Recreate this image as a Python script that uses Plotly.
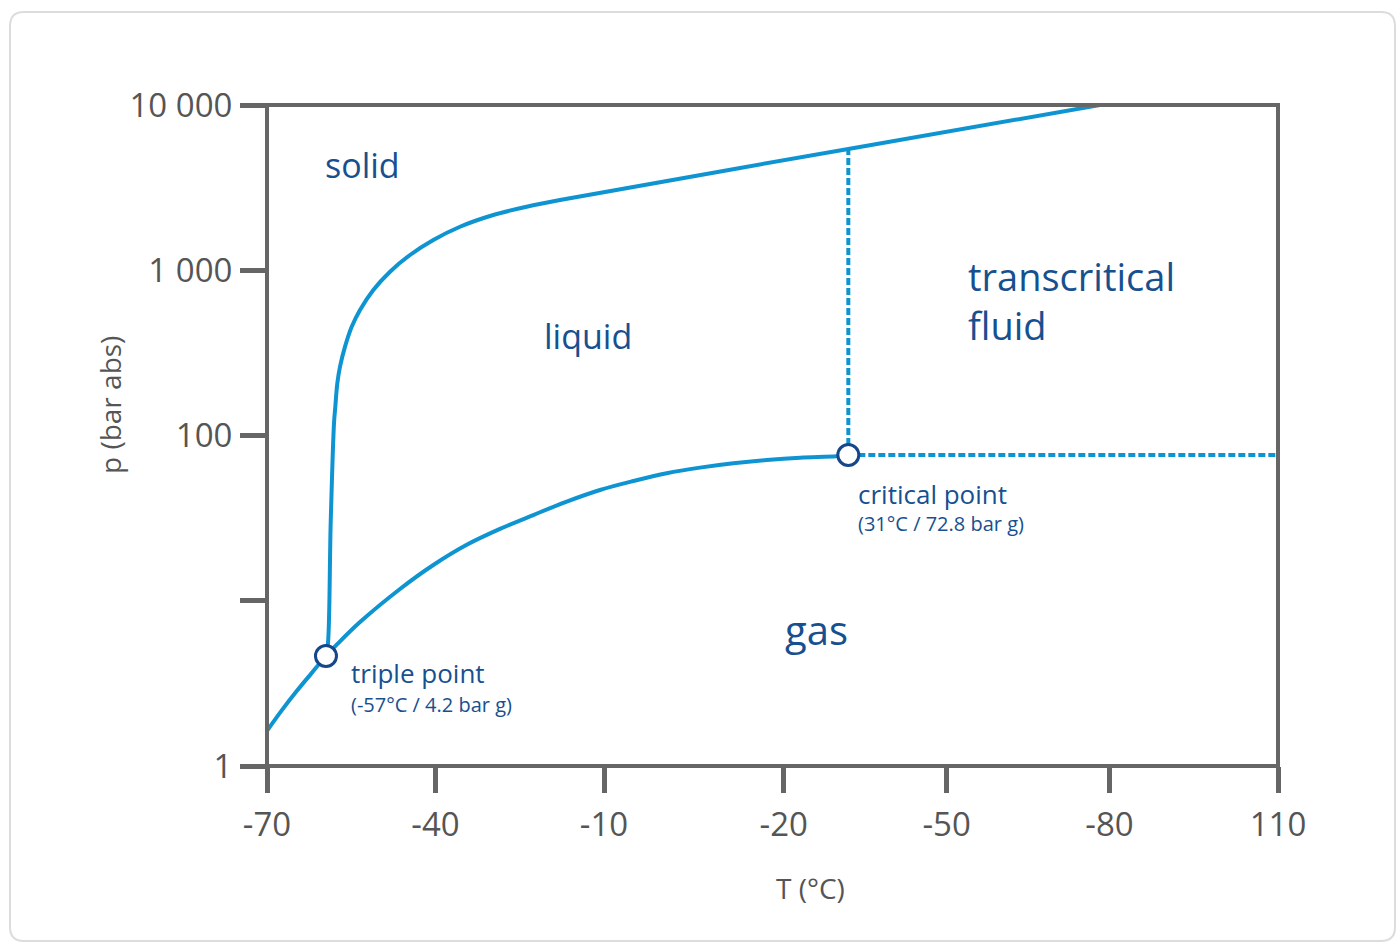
import plotly.graph_objects as go

# ---- data ----
melt_T = [-59.50, -59.14, -58.66, -58.07, -57.84, -57.48, -57.00, -56.11, -54.92, -53.44,
          -51.07, -48.10, -44.54, -40.39, -35.64, -29.71, -23.77, -17.83, 33.5, 78.3]
melt_p = [4.63, 5.55, 29.5, 119, 149, 207, 261, 345, 455, 575,
          760, 980, 1237, 1525, 1834, 2160, 2424, 2662, 5420, 10000]

vap_T = [-70.0, -67.51, -64.71, -62.17, -59.50, -57.54, -53.44, -46.32, -40.39, -34.44,
         -28.52, -22.59, -16.64, -10.71, -4.78, 1.16, 7.09, 13.02, 18.97, 24.90, 31.43, 33.5]
vap_p = [1.63, 2.14, 2.84, 3.61, 4.63, 5.44, 7.43, 11.78, 16.45, 21.8,
         27.2, 33.0, 39.8, 46.8, 53.0, 59.1, 63.9, 67.9, 71.1, 73.4, 74.8, 76.2]

triple_T, triple_p = -59.5, 4.63
critical_T, critical_p = 33.5, 76.2
crit_top_p = 5420
T_max = 110

x_tickvals = [-70, -40, -10, 22, 51, 80, 110]
x_ticktext = ["-70", "-40", "-10", "-20", "-50", "-80", "110"]
y_tickvals = [1, 10, 100, 1000, 10000]
y_ticktext = ["1", "", "100", "1 000", "10 000"]

region_labels = ["solid", "liquid", "transcritical<br>fluid", "gas"]
point_titles = ["triple point", "critical point"]
point_notes = ["(-57°C / 4.2 bar g)", "(31°C / 72.8 bar g)"]

# ---- styling ----
W, H = 1397, 944
ML, MR, MT, MB = 267, 119, 105, 178
PW, PH = W - ML - MR, H - MT - MB
FONT = "Open Sans"
CURVE = "#0f94d2"
DARK = "#17508f"
GRAY = "#666666"
TXT = "#555555"


def px(x):
    return (x - ML) / PW


def py(y):
    return (H - MB - y) / PH


fig = go.Figure()

line_style = dict(color=CURVE, width=4)
fig.add_trace(go.Scatter(x=melt_T, y=melt_p, mode="lines",
                         line=dict(line_style, shape="spline", smoothing=1.0),
                         hoverinfo="skip", showlegend=False))
fig.add_trace(go.Scatter(x=vap_T, y=vap_p, mode="lines",
                         line=dict(line_style, shape="spline", smoothing=1.0),
                         hoverinfo="skip", showlegend=False))
dash_style = dict(color=CURVE, width=4, dash="7px,3px")
fig.add_trace(go.Scatter(x=[critical_T, critical_T], y=[critical_p, crit_top_p], mode="lines",
                         line=dash_style, hoverinfo="skip", showlegend=False))
fig.add_trace(go.Scatter(x=[critical_T, T_max], y=[critical_p, critical_p], mode="lines",
                         line=dash_style, hoverinfo="skip", showlegend=False))
fig.add_trace(go.Scatter(x=[triple_T, critical_T], y=[triple_p, critical_p], mode="markers",
                         marker=dict(size=21, color="white", line=dict(color="#16478a", width=3)),
                         cliponaxis=False, hoverinfo="skip", showlegend=False))

ann = []


def add_text(text, x, y, size, color=DARK, xanchor="left", textangle=0):
    ann.append(dict(text=text, x=px(x), y=py(y), xref="paper", yref="paper",
                    xanchor=xanchor, yanchor="middle", showarrow=False,
                    textangle=textangle, align="left",
                    font=dict(family=FONT, size=size, color=color)))


add_text(region_labels[0], 362, 165, 34, xanchor="center")
add_text(region_labels[1], 588, 336, 34, xanchor="center")
add_text(region_labels[2], 966, 300, 38)
add_text(region_labels[3], 816, 629, 40, xanchor="center")
add_text(point_titles[0], 349, 673, 26)
add_text(point_notes[0], 349, 704, 20)
add_text(point_titles[1], 856, 494, 26)
add_text(point_notes[1], 856, 523, 20)
add_text("T (°C)", 810, 888, 28, color=TXT, xanchor="center")
add_text("p (bar abs)", 110, 405, 28, color=TXT, xanchor="center", textangle=-90)

# card border (rounded rectangle)
x0, y0, x1, y1, r = 10, 12, 1395, 941, 14
path = (f"M {px(x0 + r)},{py(y0)} L {px(x1 - r)},{py(y0)} Q {px(x1)},{py(y0)} {px(x1)},{py(y0 + r)} "
        f"L {px(x1)},{py(y1 - r)} Q {px(x1)},{py(y1)} {px(x1 - r)},{py(y1)} "
        f"L {px(x0 + r)},{py(y1)} Q {px(x0)},{py(y1)} {px(x0)},{py(y1 - r)} "
        f"L {px(x0)},{py(y0 + r)} Q {px(x0)},{py(y0)} {px(x0 + r)},{py(y0)} Z")

shapes = [
    dict(type="path", path=path, xref="paper", yref="paper",
         line=dict(color="#dcdcdc", width=2), layer="below"),
    # plot frame centred on the plot-area edges
    dict(type="rect", x0=0, y0=0, x1=1, y1=1, xref="paper", yref="paper",
         line=dict(color=GRAY, width=4), layer="above"),
]

fig.update_layout(
    width=W, height=H,
    margin=dict(l=ML, r=MR, t=MT, b=MB),
    paper_bgcolor="white", plot_bgcolor="white",
    annotations=ann,
    shapes=shapes,
    xaxis=dict(range=[-70, 110], tickvals=x_tickvals, ticktext=x_ticktext,
               showgrid=False, zeroline=False, showline=False,
               ticks="outside", ticklen=26,
               tickwidth=5, tickcolor=GRAY, ticklabelstandoff=3,
               tickfont=dict(family=FONT, size=33, color=TXT)),
    yaxis=dict(type="log", range=[0, 4], tickvals=y_tickvals, ticktext=y_ticktext,
               showgrid=False, zeroline=False, showline=False,
               ticks="outside", ticklen=26,
               tickwidth=5, tickcolor=GRAY, ticklabelstandoff=1,
               tickfont=dict(family=FONT, size=33, color=TXT)),
)

fig.write_html("out.html", config={"displayModeBar": False},
               post_script="document.body.style.margin='0';")
